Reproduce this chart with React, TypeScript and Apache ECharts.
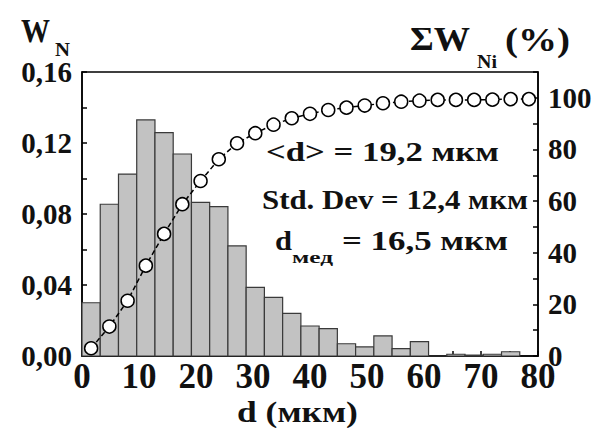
import React, { useEffect, useRef } from "react";
import * as echarts from "echarts";

// Histogram bins (left edges, µm), bin width 3.2 µm
const binLeft = [0, 3.2, 6.4, 9.6, 12.8, 16, 19.2, 22.4, 25.6, 28.8, 32, 35.2, 38.4, 41.6, 44.8, 48, 51.2, 54.4, 57.6, 60.8, 64, 67.2, 70.4, 73.6];
const binWidth = 3.2;
// Number fraction W_N per bin
const fractions = [0.030, 0.0855, 0.1025, 0.133, 0.1258, 0.1138, 0.0866, 0.0841, 0.062, 0.0387, 0.033, 0.024, 0.0169, 0.0154, 0.0069, 0.0051, 0.0113, 0.0041, 0.0081, 0.0, 0.001, 0.0005, 0.001, 0.0024];
// Cumulative points (bin centres, µm) and ΣW_Ni (%)
const cumX = [1.6, 4.8, 8, 11.2, 14.4, 17.6, 20.8, 24, 27.2, 30.4, 33.6, 36.8, 40, 43.2, 46.4, 49.6, 52.8, 56, 59.2, 62.4, 65.6, 68.8, 72, 75.2, 78.4];
const cumPercent = [3.0, 11.4, 21.4, 35.0, 47.3, 58.8, 67.8, 76.2, 82.4, 86.3, 89.6, 92.1, 93.8, 95.3, 96.2, 97.0, 97.9, 98.5, 98.9, 99.2, 99.2, 99.2, 99.3, 99.5, 99.5];

const xTickLabels = ["0", "10", "20", "30", "40", "50", "60", "70", "80"];
const leftTickLabels = ["0,00", "0,04", "0,08", "0,12", "0,16"];
const rightTickLabels = ["0", "20", "40", "60", "80", "100"];

const FONT = "Liberation Serif";

function measure(text: string, font: string): number {
  const c = document.createElement("canvas").getContext("2d");
  if (!c) return text.length * 10;
  c.font = font;
  return c.measureText(text).width;
}

function fitText(text: string, size: number, left: number, right: number, cy: number) {
  const font = `bold ${size}px ${FONT}`;
  const w = measure(text, font);
  return {
    type: "text",
    x: left,
    y: cy,
    scaleX: (right - left) / w,
    z: 100,
    style: { text, font, fill: "#111", align: "left", verticalAlign: "middle" },
  };
}

export default function App() {
  const ref = useRef<HTMLDivElement>(null);
  useEffect(() => {
    if (!ref.current) return;
    const chart = echarts.init(ref.current, null, { renderer: "svg" });
    const axisLine = { show: true, lineStyle: { color: "#000", width: 1.5 } };
    const axisTick = { show: true, inside: true, length: 5, lineStyle: { color: "#000", width: 1.5 } };
    const labelBase = { fontFamily: FONT, fontWeight: "bold", color: "#111" };
    const option: any = {
      animation: false,
      backgroundColor: "#fff",
      grid: { left: 82, right: 66, top: 72, bottom: 72, show: true, borderColor: "#000", borderWidth: 1.5 },
      xAxis: {
        type: "value",
        min: 0,
        max: 80,
        interval: 5,
        axisLine,
        axisTick,
        splitLine: { show: false },
        axisLabel: {
          ...labelBase,
          fontSize: 35,
          margin: 3,
          formatter: (v: number) => (xTickLabels.includes(String(v)) ? String(v) : ""),
        },
      },
      yAxis: [
        {
          type: "value",
          position: "left",
          min: 0,
          max: 0.16,
          interval: 0.02,
          axisLine,
          axisTick,
          splitLine: { show: false },
          axisLabel: {
            ...labelBase,
            fontSize: 29,
            margin: 10,
            formatter: (v: number) => {
              const s = v.toFixed(2).replace(".", ",");
              return leftTickLabels.includes(s) ? s : "";
            },
          },
        },
        {
          type: "value",
          position: "right",
          min: 0,
          max: 110,
          interval: 10,
          axisLine,
          axisTick,
          splitLine: { show: false },
          axisLabel: {
            ...labelBase,
            fontSize: 29,
            margin: 10,
            formatter: (v: number) => (rightTickLabels.includes(String(Math.round(v))) ? String(Math.round(v)) : ""),
          },
        },
      ],
      series: [
        {
          type: "custom",
          xAxisIndex: 0,
          yAxisIndex: 0,
          encode: { x: [0, 1], y: 2 },
          data: binLeft.map((l, i) => [l, l + binWidth, fractions[i]]),
          z: 1,
          renderItem: (_p: any, api: any) => {
            const a = api.coord([api.value(0), api.value(2)]);
            const b = api.coord([api.value(1), 0]);
            return {
              type: "rect",
              shape: { x: a[0], y: a[1], width: b[0] - a[0], height: b[1] - a[1] },
              style: { fill: "#c2c2c2", stroke: "#3a3a3a", lineWidth: 1.2 },
            };
          },
        },
        {
          type: "line",
          xAxisIndex: 0,
          yAxisIndex: 1,
          data: cumX.map((x, i) => [x, cumPercent[i]]),
          symbol: "circle",
          symbolSize: 13,
          clip: false,
          z: 5,
          itemStyle: { color: "#fff", borderColor: "#000", borderWidth: 1.5 },
          lineStyle: { color: "#000", width: 1.5, type: [5, 3] },
        },
      ],
      graphic: [
        fitText("W", 34, 21, 50, 31),
        fitText("N", 19, 55, 70, 49),
        fitText("ΣW", 34, 410, 470, 39),
        fitText("Ni", 18, 477, 497, 62),
        fitText("(%)", 34, 505, 570, 39),
        fitText("<d> = 19,2 мкм", 27, 266, 499, 152),
        fitText("Std. Dev = 12,4 мкм", 27, 262, 528, 200),
        fitText("d", 27, 275, 292, 241),
        fitText("мед", 17, 292, 333, 257),
        fitText("= 16,5 мкм", 27, 342, 508, 241),
        fitText("d (мкм)", 29, 237, 358, 412),
      ],
    };
    chart.setOption(option);
    return () => chart.dispose();
  }, []);
  return (
    <div
      ref={ref}
      style={{ position: "fixed", left: 0, top: 0, width: 604, height: 428, background: "#fff" }}
    />
  );
}
